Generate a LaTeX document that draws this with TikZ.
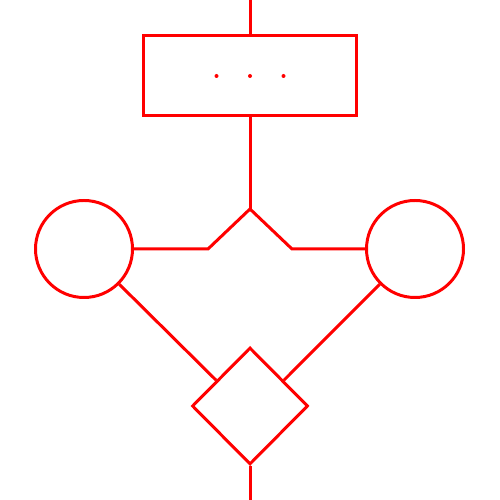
\documentclass[tikz,border=0pt]{standalone}
\usetikzlibrary{shapes.geometric,calc}
\tikzset{
  ln/.style={draw=red, line width=1.7pt},
  boxnode/.style={ln, rectangle, minimum width=4.26cm, minimum height=1.6cm, inner sep=0pt},
  circnode/.style={ln, circle, minimum size=1.94cm, inner sep=0pt},
  dianode/.style={ln, diamond, minimum width=2.32cm, minimum height=2.34cm, inner sep=0pt},
  dotmark/.style={fill=red, circle, inner sep=0pt, minimum size=0.08cm}
}
\begin{document}
\begin{tikzpicture}
\useasboundingbox (0,0) rectangle (10,10);
\node[boxnode] (bx) at (5,8.48) {};
\node[dotmark] (d1) at (4.33,8.48) {};
\node[dotmark] (d2) at (5,8.48) {};
\node[dotmark] (d3) at (5.67,8.48) {};
\node[circnode] (lc) at (1.68,5.02) {};
\node[circnode] (rc) at (8.3,5.02) {};
\node[dianode] (dm) at (5,1.88) {};
\coordinate (top) at (5,10);
\coordinate (bot) at (5,0);
\coordinate (apex) at (5,5.82);
\coordinate (lb) at (4.16,5.02);
\coordinate (rb) at (5.84,5.02);
\draw[ln] (top) -- (bx.north);
\draw[ln] (bx.south) -- (apex);
\draw[ln] (lc.east) -- (lb) -- (apex) -- (rb) -- (rc.west);
\draw[ln] (lc.south east) -- ($(dm.west)!0.43!(dm.north)$);
\draw[ln] (rc.south west) -- ($(dm.east)!0.43!(dm.north)$);
\draw[ln] (dm.south) -- (bot);
\end{tikzpicture}
\end{document}
